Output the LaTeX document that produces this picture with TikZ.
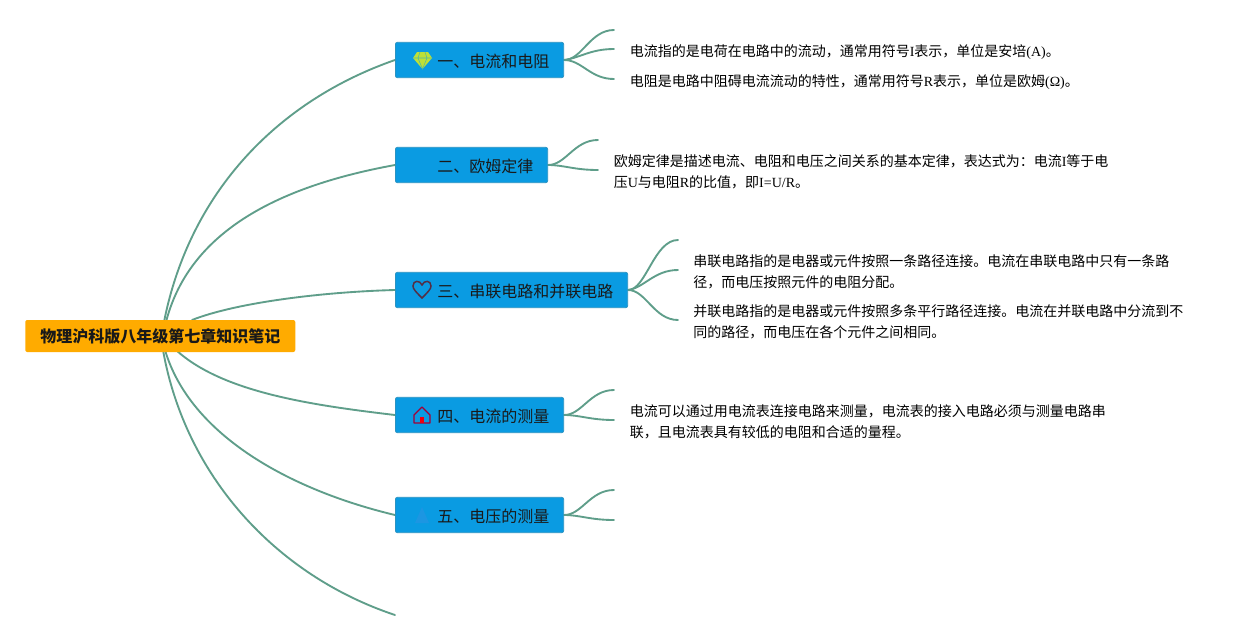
\documentclass[tikz,border=0pt]{standalone}
\usepackage{fontspec}
\setmainfont{Liberation Serif}
\newfontfamily\cjk{Noto Sans CJK SC}
\usetikzlibrary{backgrounds}
\newcommand{\lat}[1]{{\rmfamily\addfontfeatures{}#1}}
\tikzset{
  x=0.75pt,y=-0.75pt,
  rootbox/.style={fill=rootorange,rounded corners=1.5pt,minimum height=24pt,inner sep=0pt,font=\cjk\bfseries\fontsize{12}{14}\selectfont,anchor=west,text=black!90},
  branchbox/.style={fill=branchblue,draw=branchedge,line width=0.6pt,rounded corners=1.5pt,minimum height=26.5pt,inner sep=0pt,anchor=west},
  branchtext/.style={anchor=west,inner sep=0pt,font=\cjk\fontsize{12}{14}\selectfont,text=black!90},
  leaf/.style={anchor=north west,inner sep=0pt,align=left,font=\cjk\fontsize{10.5}{16}\selectfont,text=black},
  link/.style={draw=linkgreen,line width=1.4pt,line cap=round},
}
\definecolor{rootorange}{HTML}{FFAB00}
\definecolor{branchblue}{HTML}{0A9BE2}
\definecolor{branchedge}{HTML}{2A93C2}
\definecolor{linkgreen}{HTML}{5F9E8A}
\definecolor{faintblue}{HTML}{1C96E2}
\begin{document}
\begin{tikzpicture}
\useasboundingbox (0,0) rectangle (1253,640);
% root and branches
\node[rootbox,minimum width=202.5pt] (root) at (25,336) {物理沪科版八年级第七章知识笔记};
\node[branchbox,minimum width=126.2pt] (b1) at (395,60) {};
\node[branchbox,minimum width=114.2pt] (b2) at (395,165) {};
\node[branchbox,minimum width=174.2pt] (b3) at (395,290) {};
\node[branchbox,minimum width=126.2pt] (b4) at (395,415) {};
\node[branchbox,minimum width=126.2pt] (b5) at (395,515) {};
\node[branchtext] (t1) at (437,61) {一、电流和电阻};
\node[branchtext] (t2) at (437,166) {二、欧姆定律};
\node[branchtext] (t3) at (437,291) {三、串联电路和并联电路};
\node[branchtext] (t4) at (437,416) {四、电流的测量};
\node[branchtext] (t5) at (437,516) {五、电压的测量};
% leaves
\node[leaf] (l1) at (629.5,44.5) {电流指的是电荷在电路中的流动，通常用符号\lat{I}表示，单位是安培\lat{(A)}。};
\node[leaf] (l2) at (629.5,74.5) {电阻是电路中阻碍电流流动的特性，通常用符号\lat{R}表示，单位是欧姆\lat{(Ω)}。};
\node[leaf] (l3) at (613.5,154.5) {欧姆定律是描述电流、电阻和电压之间关系的基本定律，表达式为：电流\lat{I}等于电\\压\lat{U}与电阻\lat{R}的比值，即\lat{I=U/R}。};
\node[leaf] (l4) at (693,254.5) {串联电路指的是电器或元件按照一条路径连接。电流在串联电路中只有一条路\\径，而电压按照元件的电阻分配。};
\node[leaf] (l5) at (693,304.5) {并联电路指的是电器或元件按照多条平行路径连接。电流在并联电路中分流到不\\同的路径，而电压在各个元件之间相同。};
\node[leaf] (l6) at (629.5,404.5) {电流可以通过用电流表连接电路来测量，电流表的接入电路必须与测量电路串\\联，且电流表具有较低的电阻和合适的量程。};
% free ends
\coordinate (r1) at (164,322);
\coordinate (r2) at (166,322);
\coordinate (r3) at (192,320);
\coordinate (r4) at (176,350);
\coordinate (r5) at (165,350);
\coordinate (r6) at (163,350);
\coordinate (b6) at (395,615);
\coordinate (e11) at (614,30);
\coordinate (e12) at (614,49);
\coordinate (e13) at (614,79);
\coordinate (e21) at (598,140);
\coordinate (e22) at (598,170);
\coordinate (e31) at (678,240);
\coordinate (e32) at (678,270);
\coordinate (e33) at (678,320);
\coordinate (e41) at (614,390);
\coordinate (e42) at (614,420);
\coordinate (e51) at (614,490);
\coordinate (e52) at (614,520);
\begin{scope}[on background layer]
\fill[white] (0,0) rectangle (1253,640);
\draw[link] (r1) .. controls (190,190) and (280,100) .. (b1.west);
\draw[link] (r2) .. controls (190,228) and (285,185) .. (b2.west);
\draw[link] (r3) .. controls (235,303) and (320,292) .. (b3.west);
\draw[link] (r4) .. controls (222,392) and (310,405) .. (b4.west);
\draw[link] (r5) .. controls (190,435) and (290,490) .. (b5.west);
\draw[link] (r6) .. controls (185,475) and (275,575) .. (b6);
\draw[link] (b1.east) .. controls (582,60) and (590,30) .. (e11);
\draw[link] (b1.east) .. controls (580,58) and (590,49) .. (e12);
\draw[link] (b1.east) .. controls (582,60) and (590,79) .. (e13);
\draw[link] (b2.east) .. controls (566,165) and (574,140) .. (e21);
\draw[link] (b2.east) .. controls (564,165) and (574,170) .. (e22);
\draw[link] (b3.east) .. controls (646,290) and (654,240) .. (e31);
\draw[link] (b3.east) .. controls (644,288) and (654,270) .. (e32);
\draw[link] (b3.east) .. controls (646,290) and (654,320) .. (e33);
\draw[link] (b4.east) .. controls (582,415) and (590,390) .. (e41);
\draw[link] (b4.east) .. controls (580,415) and (590,420) .. (e42);
\draw[link] (b5.east) .. controls (582,515) and (590,490) .. (e51);
\draw[link] (b5.east) .. controls (580,515) and (590,520) .. (e52);
\end{scope}
% icon: diamond
\fill[yellow!70!green!85] (417,52) -- (428,52) -- (432,58) -- (422.5,69) -- (413,58) -- cycle;
\draw[branchblue!70!yellow,line width=0.4pt] (413,58) -- (432,58) (418,58) -- (422.5,69) -- (427,58) (418,58) -- (420,52) (427,58) -- (425,52);
% icon: heart
\draw[draw=red!45!black!70!branchblue,line width=1.1pt] (422,298) .. controls (416,292) and (413,289) .. (413,286) .. controls (413,280) and (420,280) .. (422,285) .. controls (424,280) and (431,280) .. (431,286) .. controls (431,289) and (428,292) .. (422,298) -- cycle;
% icon: house
\draw[draw=purple!85!black,line width=1.0pt,line join=round] (414,423) -- (414,415) -- (422,407) -- (430,415) -- (430,423) -- cycle;
\fill[red!75!purple] (420,423) rectangle (424,417);
% faint icon
\fill[faintblue] (415,523) -- (422,507) -- (429,523) -- cycle;
\end{tikzpicture}
\end{document}
